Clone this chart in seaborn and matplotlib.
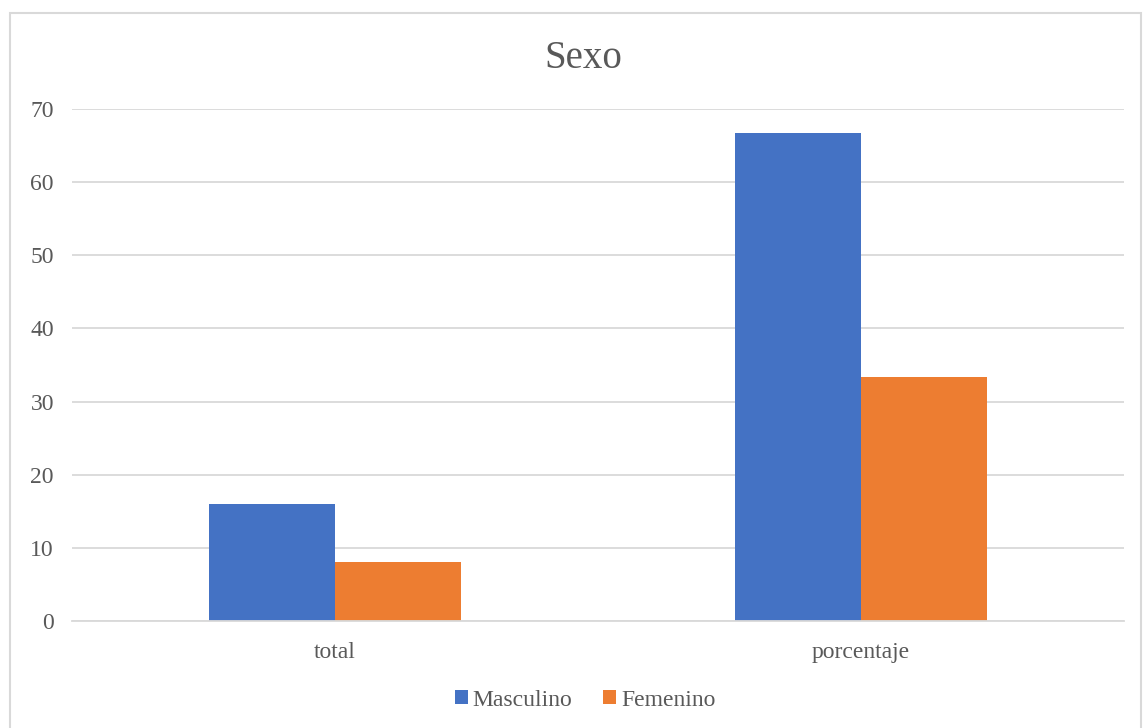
import matplotlib
matplotlib.use("Agg")
import matplotlib.pyplot as plt
import seaborn as sns
import pandas as pd
from matplotlib.patches import Rectangle

categories = ["total", "porcentaje"]
series_names = ["Masculino", "Femenino"]
masculino = [16, 66.67]
femenino = [8, 33.33]
yticks = [0, 10, 20, 30, 40, 50, 60, 70]

df = pd.DataFrame({
    "cat": categories * 2,
    "sexo": [series_names[0]] * 2 + [series_names[1]] * 2,
    "val": masculino + femenino,
})

sns.set_theme(style="white")
plt.rcParams["font.family"] = ["Liberation Serif", "DejaVu Serif"]

W, H = 1143, 728
fig = plt.figure(figsize=(W / 100, H / 100), dpi=100)
ax = fig.add_axes([72 / W, 1 - 621 / H, (1124 - 72) / W, (621 - 109) / H])

txt = "#595959"
grid = "#d9d9d9"
sns.barplot(data=df, x="cat", y="val", hue="sexo", order=categories,
            hue_order=series_names, palette=["#4472C4", "#ED7D31"],
            width=0.48, saturation=1, ax=ax, linewidth=0, legend=True)

ax.set_xlim(-0.5, 1.5)
ax.set_ylim(0, 70)
ax.set_yticks(yticks)
ax.set_yticklabels([str(v) for v in yticks])
ax.yaxis.grid(True, color=grid, linewidth=1.3)
ax.set_axisbelow(True)
for s in ["left", "right", "top"]:
    ax.spines[s].set_visible(False)
ax.spines["bottom"].set_color(grid)
ax.spines["bottom"].set_linewidth(1.3)
ax.tick_params(axis="both", length=0, labelsize=17, colors=txt)
ax.tick_params(axis="y", pad=13)
ax.tick_params(axis="x", pad=15)
ax.set_xlabel("")
ax.set_ylabel("")

fig.text(0.51, 1 - 59 / H, "Sexo", ha="center", va="center", fontsize=28, color=txt)

handles, labels = ax.get_legend_handles_labels()
ax.legend_.remove()
fig.legend(handles, labels, loc="center", bbox_to_anchor=(0.512, 1 - 700 / H), ncol=2,
           frameon=False, fontsize=17, labelcolor=txt, handlelength=0.55,
           handleheight=0.55, handletextpad=0.2, columnspacing=1.3)

fig.patches.append(Rectangle((10 / W, -0.01), (1141 - 10) / W, 1 - 13 / H + 0.01,
                             transform=fig.transFigure, fill=False,
                             edgecolor=grid, linewidth=1.5))

fig.savefig("out.png", dpi=100, facecolor="white")
